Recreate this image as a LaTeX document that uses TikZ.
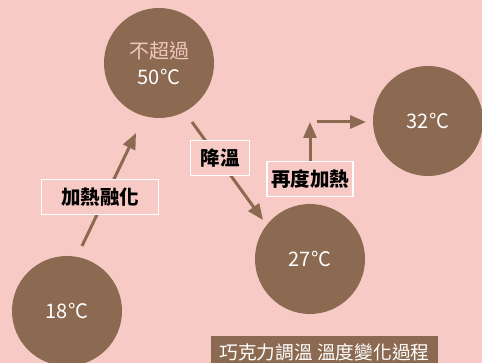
\documentclass[tikz,border=0pt]{standalone}
\usepackage{fontspec}
\setmainfont{Noto Sans CJK TC}
\usetikzlibrary{arrows.meta}
\definecolor{choco}{HTML}{8B6A51}
\definecolor{rosebg}{HTML}{F7CAC5}
\definecolor{rosetext}{HTML}{F2C4BD}
\tikzstyle{temp}=[circle,fill=choco,text=white,minimum size=110pt,inner sep=0pt,align=center,font=\fontsize{20}{26}\selectfont]
\tikzstyle{tag}=[rectangle,draw=white,line width=1.5pt,fill=rosebg,text=black,minimum height=35pt,inner sep=0pt,font=\fontsize{19.5}{21}\selectfont\bfseries]
\tikzstyle{banner}=[rectangle,fill=choco,text=white,minimum width=227pt,minimum height=32pt,inner sep=0pt,font=\fontsize{18.7}{20}\selectfont]
\tikzstyle{flow}=[-{Triangle[length=16pt,width=13pt]},draw=choco,fill=choco,line width=3pt]
\begin{document}
\begin{tikzpicture}[x=1pt,y=-1pt]

\fill [rosebg] (0,0) rectangle (482,363) ;
\useasboundingbox (0,0) rectangle (482,363) ;

\node (start) [temp] at (67,311) {18°C} ;
\node (peak) [temp] at (159,63) {\textcolor{rosetext}{不超過}\\50°C} ;
\node (cool) [temp] at (310,259) {27°C} ;
\node (final) [temp] at (428,121) {32°C} ;

\coordinate (melt from) at (82,246) ;
\coordinate (melt to) at (136,133) ;
\coordinate (chill from) at (192,122) ;
\coordinate (chill to) at (263,220) ;
\coordinate (heat corner) at (310,122) ;
\coordinate (heat gap) at (317,122) ;
\coordinate (heat to) at (366,122) ;

\draw [flow] (melt from) -- (melt to) ;
\draw [flow] (chill from) -- (chill to) ;

\node (melt) [tag,minimum width=117pt] at (100,197) {加熱融化} ;
\node (chill) [tag,minimum width=59pt] at (220,158) {降溫} ;
\node (reheat) [tag,minimum width=86pt] at (310,179) {再度加熱} ;

\draw [flow] (reheat.north) -- (heat corner) ;
\draw [flow] (heat gap) -- (heat to) ;

\node (caption) [banner] at (324.5,352) {巧克力調溫 溫度變化過程} ;

\end{tikzpicture}
\end{document}
